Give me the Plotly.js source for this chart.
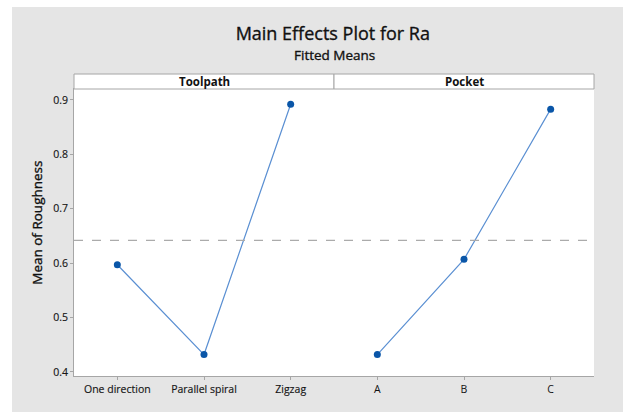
<!DOCTYPE html>
<html>
<head>
<meta charset="utf-8">
<script src="https://cdn.plot.ly/plotly-3.0.1.min.js"></script>
<style>
  html, body { margin: 0; padding: 0; background: #ffffff; }
  #chart { position: absolute; left: 12px; top: 7px; width: 611px; height: 405px; }
  #chart .gtitle, #chart .annotation-text.heavy { stroke: #111; stroke-width: 0.35px; }
  #chart .xtick text, #chart .ytick text { stroke: #222; stroke-width: 0.15px; }
</style>
</head>
<body>
<div id="chart"></div>
<script>
// ---- data ----
const toolpathLevels = ["One direction", "Parallel spiral", "Zigzag"];
const toolpathMeans  = [0.597, 0.432, 0.892];
const pocketLevels   = ["A", "B", "C"];
const pocketMeans    = [0.432, 0.607, 0.883];
const grandMean      = 0.642;
const panelTitles    = ["Toolpath", "Pocket"];
const yTicks         = [0.4, 0.5, 0.6, 0.7, 0.8, 0.9];

const FONT = "Open Sans, Noto Sans, sans-serif";
const lineColor = "#5a8fd2";
const markerColor = "#0a56a8";
const border = "#a6a6a6";

const traceStyle = {
  mode: "lines+markers",
  line: { color: lineColor, width: 1.2 },
  marker: { color: markerColor, size: 7 },
  hoverinfo: "x+y",
  showlegend: false
};

const traces = [
  Object.assign({ x: toolpathLevels, y: toolpathMeans, xaxis: "x", yaxis: "y" }, traceStyle),
  Object.assign({ x: pocketLevels, y: pocketMeans, xaxis: "x2", yaxis: "y" }, traceStyle)
];

const stripH = 15 / 287.5;

const xCommon = {
  type: "category",
  range: [-0.5, 2.5],
  showgrid: false, zeroline: false,
  showline: true, mirror: true, linecolor: border, linewidth: 1,
  ticks: "outside", ticklen: 3, tickcolor: border,
  tickfont: { family: FONT, size: 10.5, color: "#111" },
  fixedrange: true
};

const layout = {
  width: 611, height: 405,
  margin: { l: 62, r: 29, t: 82, b: 35.5 },
  paper_bgcolor: "#e5e5e5",
  plot_bgcolor: "#ffffff",
  font: { family: FONT, color: "#222" },
  title: {
    text: "Main Effects Plot for Ra",
    font: { family: FONT, size: 18, color: "#111" },
    x: 0.525, xanchor: "center",
    y: 1 - 27 / 405, yanchor: "middle", yref: "container"
  },
  xaxis: Object.assign({ domain: [0, 0.5], anchor: "y" }, xCommon),
  xaxis2: Object.assign({ domain: [0.5, 1], anchor: "y" }, xCommon),
  yaxis: {
    range: [0.3926, 0.920],
    tickvals: yTicks,
    ticktext: yTicks.map(v => v.toFixed(1)),
    showgrid: false, zeroline: false,
    showline: true, linecolor: border, linewidth: 1,
    ticks: "outside", ticklen: 3, tickcolor: border,
    tickfont: { family: FONT, size: 10.5, color: "#111" },
    fixedrange: true
  },
  shapes: [
    { type: "line", xref: "paper", yref: "y", x0: 0, x1: 1, y0: grandMean, y1: grandMean,
      line: { color: "#ababab", width: 1.2, dash: "dash" } },
    { type: "rect", xref: "paper", yref: "paper", x0: 0, x1: 0.5, y0: 1, y1: 1 + stripH,
      fillcolor: "#ffffff", line: { color: border, width: 1 } },
    { type: "rect", xref: "paper", yref: "paper", x0: 0.5, x1: 1, y0: 1, y1: 1 + stripH,
      fillcolor: "#ffffff", line: { color: border, width: 1 } }
  ],
  annotations: [
    { text: "Fitted Means", xref: "paper", yref: "paper", x: 0.5, y: 1 + (82 - 48) / 287.5,
      xanchor: "center", yanchor: "middle", showarrow: false,
      font: { family: FONT, size: 13.5, color: "#111" } },
    { text: "<b>" + panelTitles[0] + "</b>", xref: "paper", yref: "paper", x: 0.25, y: 1 + stripH / 2,
      xanchor: "center", yanchor: "middle", showarrow: false,
      font: { family: FONT, size: 11.5, color: "#111" } },
    { text: "<b>" + panelTitles[1] + "</b>", xref: "paper", yref: "paper", x: 0.75, y: 1 + stripH / 2,
      xanchor: "center", yanchor: "middle", showarrow: false,
      font: { family: FONT, size: 11.5, color: "#111" } },
    { text: "Mean of Roughness", xref: "paper", yref: "paper", x: (37 - 74) / 520, y: (376.5 - 223) / 287.5,
      xanchor: "center", yanchor: "middle", textangle: -90, showarrow: false,
      font: { family: FONT, size: 13.5, color: "#111" } }
  ]
};

Plotly.newPlot("chart", traces, layout, { displayModeBar: false, staticPlot: true }).then(gd => {
  // mark the subtitle and axis title for slightly heavier rendering
  gd.querySelectorAll(".annotation-text").forEach(t => {
    const s = t.textContent;
    if (s === "Fitted Means" || s === "Mean of Roughness") t.classList.add("heavy");
  });
});
</script>
</body>
</html>
